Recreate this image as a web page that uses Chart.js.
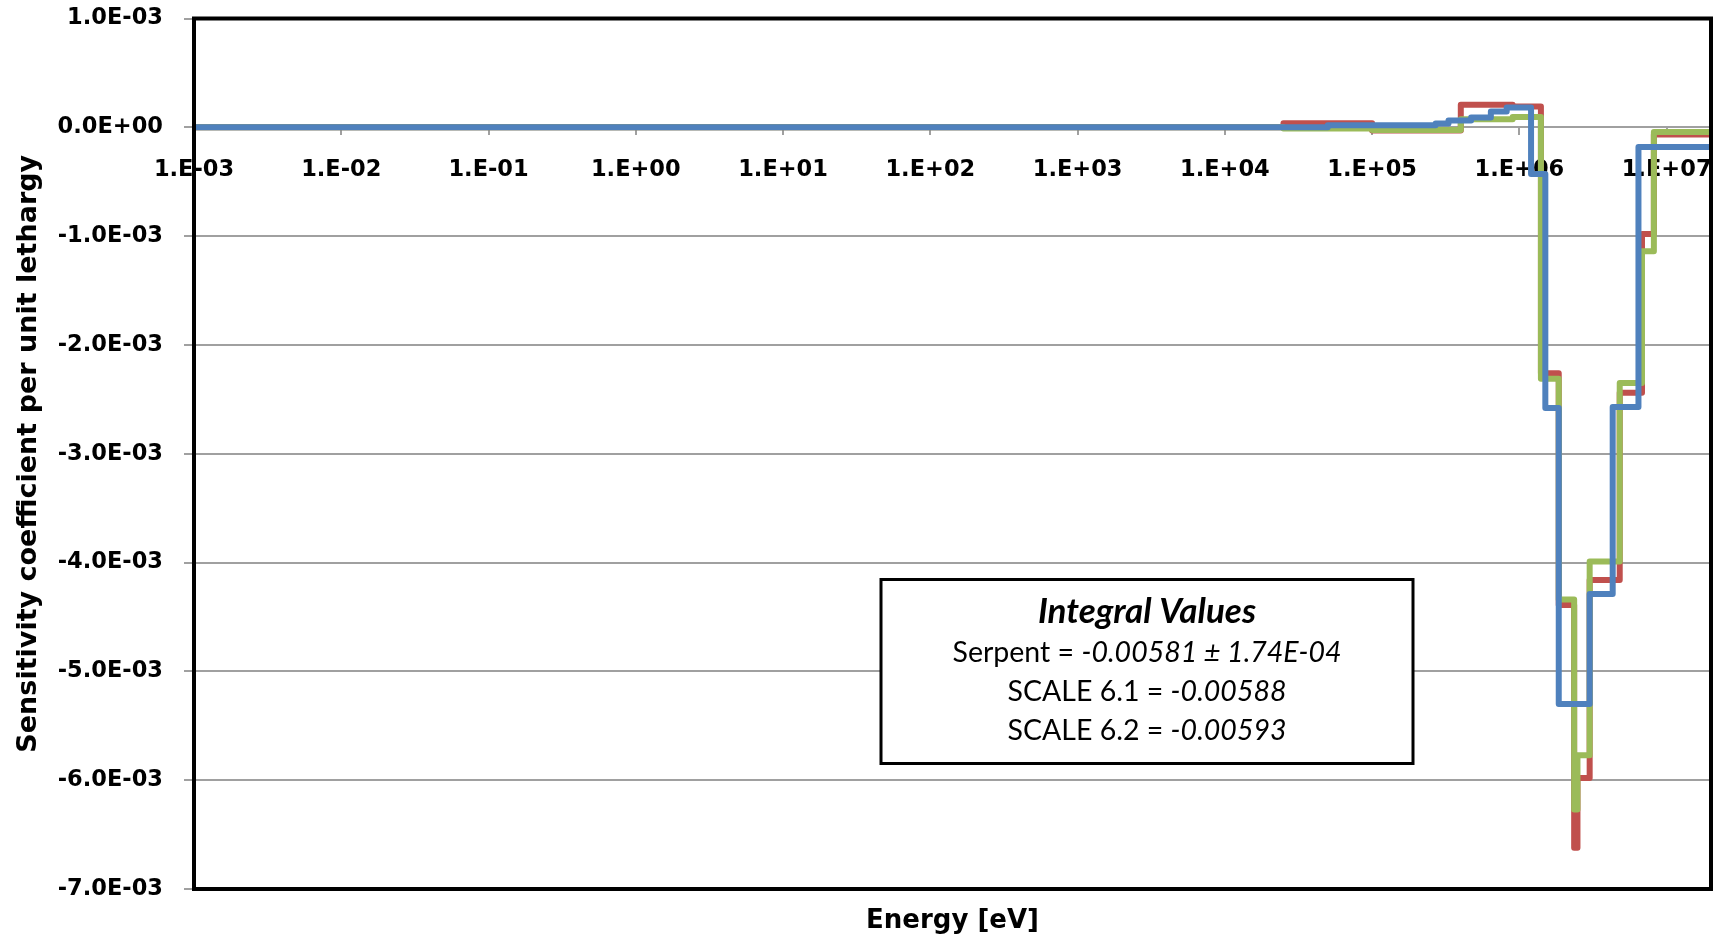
<!DOCTYPE html>
<html>
<head>
<meta charset="utf-8">
<title>Sensitivity coefficient per unit lethargy</title>
<script src="https://cdn.jsdelivr.net/npm/chart.js@4.4.1/dist/chart.umd.min.js"></script>
<style>
  html, body { margin: 0; padding: 0; background: #ffffff; }
  #wrap { width: 1721px; height: 937px; }
</style>
</head>
<body>
<div id="wrap"><canvas id="chart" width="1721" height="937"></canvas></div>
<script>
// Group boundaries (eV): lower edges of each group, upper bound appended
const scaleBounds = [1e-3, 2.5e4, 1e5, 4e5, 9e5, 1.4e6, 1.85e6, 2.354e6, 2.479e6, 3e6, 4.8e6, 6.8e6, 8.187e6, 2e7];
// Sensitivity per unit lethargy, one value per group
const scale61Values = [0, 3.7e-5, -3.0e-5, 2.08e-4, 1.92e-4, -2.26e-3, -4.39e-3, -6.62e-3, -5.98e-3, -4.16e-3, -2.44e-3, -0.98e-3, -6.5e-5];
const scale62Values = [0, -1.0e-5, -2.5e-5, 7.5e-5, 9.5e-5, -2.31e-3, -4.34e-3, -6.27e-3, -5.77e-3, -3.99e-3, -2.35e-3, -1.14e-3, -4.2e-5];

const serpentBounds = [1e-3, 5e4, 2.7e5, 3.3e5, 4.7e5, 6.4e5, 8.2e5, 1.2e6, 1.5e6, 1.85e6, 3e6, 4.3e6, 6.434e6, 2e7];
const serpentValues = [0, 2.0e-5, 3.5e-5, 6.3e-5, 9.0e-5, 1.45e-4, 1.83e-4, -4.3e-4, -2.58e-3, -5.30e-3, -4.29e-3, -2.57e-3, -1.8e-4];

const xTickValues = [1e-3, 1e-2, 1e-1, 1e0, 1e1, 1e2, 1e3, 1e4, 1e5, 1e6, 1e7];
const xTickLabels = ['1.E-03', '1.E-02', '1.E-01', '1.E+00', '1.E+01', '1.E+02', '1.E+03', '1.E+04', '1.E+05', '1.E+06', '1.E+07'];
const yTickValues = [-7e-3, -6e-3, -5e-3, -4e-3, -3e-3, -2e-3, -1e-3, 0, 1e-3];
const yTickLabels = ['-7.0E-03', '-6.0E-03', '-5.0E-03', '-4.0E-03', '-3.0E-03', '-2.0E-03', '-1.0E-03', '0.0E+00', '1.0E-03'];

const integralTitle = 'Integral Values';
const integralLabels = ['Serpent = ', 'SCALE 6.1 = ', 'SCALE 6.2 = '];
const integralValues = ['-0.00581 \u00B1 1.74E-04', '-0.00588', '-0.00593'];

// Turn group edges + values into points for a step line (last value repeated at the upper bound)
function toSteps(bounds, values) {
  const pts = values.map((v, i) => ({ x: bounds[i], y: v }));
  pts.push({ x: bounds[bounds.length - 1], y: values[values.length - 1] });
  return pts;
}

const AXIS_FONT = 'DejaVu Sans';
const NOTE_FONT = 'Lato';

// Black frame around the plot area plus the integral-values note
const frameAndNote = {
  id: 'frameAndNote',
  afterDatasetsDraw(chart) {
    const { ctx, chartArea: a } = chart;
    ctx.save();
    ctx.strokeStyle = '#000000';
    ctx.lineWidth = 4;
    ctx.strokeRect(a.left, a.top, a.right - a.left, a.bottom - a.top);

    // note box
    const bx = a.left + 687, by = a.top + 561, bw = 532, bh = 184;
    ctx.fillStyle = '#ffffff';
    ctx.fillRect(bx, by, bw, bh);
    ctx.lineWidth = 3;
    ctx.strokeRect(bx, by, bw, bh);

    const cx = bx + bw / 2;
    ctx.fillStyle = '#000000';
    ctx.textBaseline = 'middle';
    ctx.textAlign = 'left';
    ctx.font = 'italic bold 35px ' + NOTE_FONT;
    const w = ctx.measureText(integralTitle).width;
    ctx.fillText(integralTitle, cx - w / 2, by + 32);

    const rowY = [by + 73, by + 112, by + 151];
    integralLabels.forEach((lab, i) => {
      ctx.font = '28.5px ' + NOTE_FONT;
      const w1 = ctx.measureText(lab).width;
      ctx.font = 'italic 28.5px ' + NOTE_FONT;
      const w2 = ctx.measureText(integralValues[i]).width;
      const x0 = cx - (w1 + w2) / 2;
      ctx.font = '28.5px ' + NOTE_FONT;
      ctx.fillText(lab, x0, rowY[i]);
      ctx.font = 'italic 28.5px ' + NOTE_FONT;
      ctx.fillText(integralValues[i], x0 + w1, rowY[i]);
    });
    ctx.restore();
  }
};

const lineStyle = {
  borderWidth: 6,
  pointRadius: 0,
  fill: false,
  stepped: 'before',
  borderJoinStyle: 'round',
  borderCapStyle: 'round'
};

new Chart(document.getElementById('chart'), {
  type: 'line',
  data: {
    datasets: [
      Object.assign({ label: 'Serpent', data: toSteps(serpentBounds, serpentValues), borderColor: '#4F81BD' }, lineStyle),
      Object.assign({ label: 'SCALE 6.2', data: toSteps(scaleBounds, scale62Values), borderColor: '#9BBB59' }, lineStyle),
      Object.assign({ label: 'SCALE 6.1', data: toSteps(scaleBounds, scale61Values), borderColor: '#C0504D' }, lineStyle)
    ]
  },
  options: {
    responsive: false,
    devicePixelRatio: 1,
    animation: false,
    layout: { padding: { left: 0, top: 18.5, right: 10, bottom: 0 } },
    plugins: {
      legend: { display: false },
      tooltip: { enabled: false }
    },
    scales: {
      x: {
        type: 'logarithmic',
        position: { y: 0 },
        min: 1e-3,
        max: 2e7,
        afterFit: s => { s.paddingLeft = 0; s.paddingRight = 0; },
        afterBuildTicks: s => { s.ticks = xTickValues.map(v => ({ value: v })); },
        ticks: {
          callback: (v, i) => xTickLabels[i],
          autoSkip: false,
          maxRotation: 0,
          minRotation: 0,
          padding: 21,
          color: '#000000',
          font: { family: AXIS_FONT, size: 22.5, weight: 'bold' }
        },
        grid: { drawOnChartArea: false, drawTicks: true, tickLength: 8, color: '#a0a0a0', lineWidth: 2 },
        border: { display: false }
      },
      xTitle: {
        type: 'linear',
        position: 'bottom',
        min: 0,
        max: 1,
        afterFit: s => { s.height = 48; },
        ticks: { display: false },
        grid: { display: false },
        border: { display: false },
        title: {
          display: true,
          text: 'Energy [eV]',
          color: '#000000',
          font: { family: AXIS_FONT, size: 26, weight: 'bold' },
          padding: { top: 0, bottom: 0 }
        }
      },
      y: {
        type: 'linear',
        position: 'left',
        min: -0.007,
        max: 0.001,
        afterFit: s => { s.width = 194; s.paddingTop = 0; s.paddingBottom = 0; },
        afterBuildTicks: s => { s.ticks = yTickValues.map(v => ({ value: v })); },
        ticks: {
          callback: (v, i) => yTickLabels[i],
          autoSkip: false,
          padding: 21,
          color: '#000000',
          font: { family: AXIS_FONT, size: 22.5, weight: 'bold' }
        },
        grid: { color: '#a0a0a0', lineWidth: 2, tickLength: 10, tickColor: '#a0a0a0' },
        border: { display: true, color: '#808080', width: 2 },
        title: {
          display: true,
          text: 'Sensitivity coefficient per unit lethargy',
          color: '#000000',
          font: { family: AXIS_FONT, size: 27, weight: 'bold' },
          padding: { top: 13, bottom: 0 }
        }
      }
    }
  },
  plugins: [frameAndNote]
});
</script>
</body>
</html>
